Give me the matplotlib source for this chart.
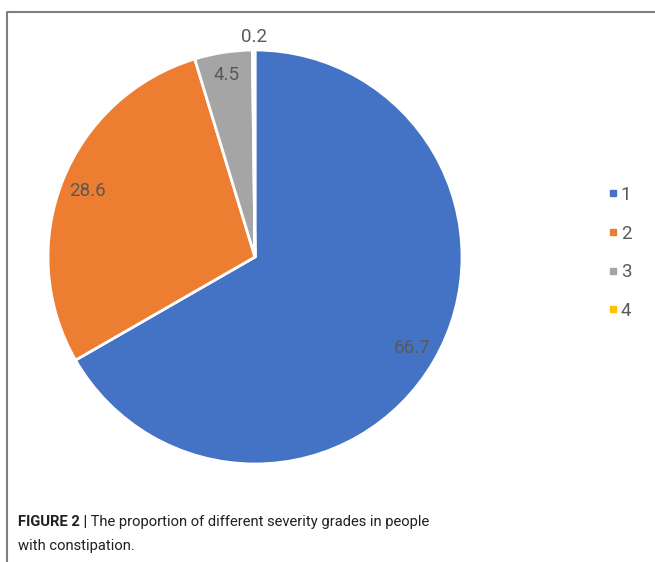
import matplotlib
matplotlib.use("Agg")
import matplotlib.pyplot as plt
from matplotlib.lines import Line2D
import numpy as np

grades = ["1", "2", "3", "4"]
proportions = [66.7, 28.6, 4.5, 0.2]
colors = ["#4472C4", "#ED7D31", "#A5A5A5", "#FFC000"]
caption_bold = "FIGURE 2 |"
caption_rest = " The proportion of different severity grades in people"
caption_line2 = "with constipation."

W, H = 655, 562
fig = plt.figure(figsize=(W / 100, H / 100), dpi=100)
fig.patch.set_facecolor("white")

label_font = ["Roboto", "DejaVu Sans"]
txt_color = "#595959"

cx, cy, r = 255, 257, 207
ax = fig.add_axes([(cx - r) / W, (H - cy - r) / H, 2 * r / W, 2 * r / H])
wedges, _ = ax.pie(proportions, colors=colors, startangle=90, counterclock=False,
                   radius=1.0, wedgeprops=dict(edgecolor="white", linewidth=2))
ax.set_xlim(-1, 1)
ax.set_ylim(-1, 1)
ax.set_aspect("equal")
ax.axis("off")

dists = [0.88, 0.87, 0.89, 1.065]
for w, v, d in zip(wedges, proportions, dists):
    ang = np.deg2rad((w.theta1 + w.theta2) / 2)
    ax.text(d * np.cos(ang), d * np.sin(ang), f"{v}", ha="center", va="center",
            fontsize=13.5, color=txt_color, family=label_font)

handles = [Line2D([], [], marker="s", linestyle="none", markersize=5,
                  markerfacecolor=c, markeredgecolor=c) for c in colors]
leg = fig.legend(handles, grades, loc="center left", bbox_to_anchor=(590 / W, 1 - 253 / H),
                 frameon=False, labelspacing=1.1, handlelength=0.6,
                 handletextpad=0.15, prop=dict(family=label_font, size=13.5))
for t in leg.get_texts():
    t.set_color(txt_color)

# frame lines
fig.add_artist(Line2D([7 / W, 7 / W, 654 / W], [0, 1 - 12 / H, 1 - 12 / H],
                      transform=fig.transFigure, color="#7f7f7f", linewidth=1.5))

cap_font = ["Roboto", "Liberation Sans", "DejaVu Sans"]
cap_size = 10.6
t1 = fig.text(18 / W, 1 - 522 / H, caption_bold, fontsize=cap_size, fontweight="bold",
              family=cap_font, color="#231f20", va="center", ha="left")
fig.canvas.draw()
bb = t1.get_window_extent()
fig.text(bb.x1 / W, 1 - 522 / H, caption_rest, fontsize=cap_size, family=cap_font,
         color="#231f20", va="center", ha="left")
fig.text(18 / W, 1 - 546 / H, caption_line2, fontsize=cap_size, family=cap_font,
         color="#231f20", va="center", ha="left")

fig.savefig("out.png", dpi=100, facecolor="white")
